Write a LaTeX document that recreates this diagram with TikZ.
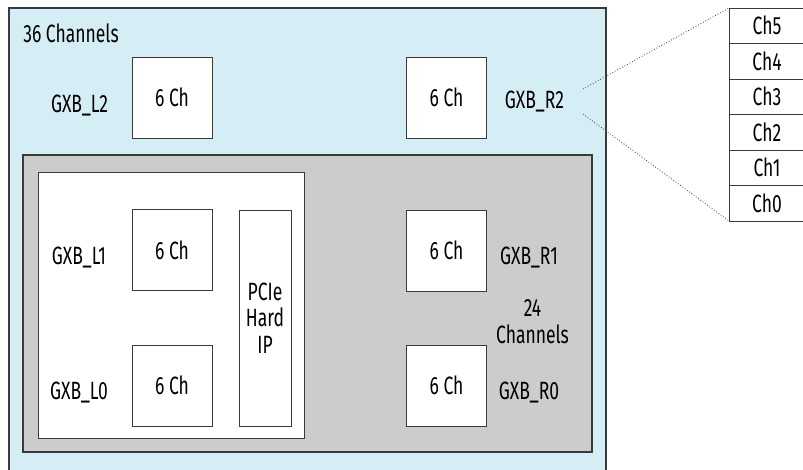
\documentclass[tikz,border=0pt]{standalone}
\usepackage{fontspec}
\setmainfont{Fira Sans}[FakeStretch=0.7]
\definecolor{lightblue}{HTML}{D5EDF4}
\definecolor{midgray}{HTML}{CCCCCC}
\definecolor{edge}{HTML}{3A3A3A}
\begin{document}
\begin{tikzpicture}[x=1pt,y=-1pt,
  every node/.style={inner sep=0pt,outer sep=0pt},
  txt/.style={font=\fontsize{25}{26.5}\selectfont,text=black},
  region/.style={draw=edge,line width=1.2pt,rectangle},
  chbox/.style={draw=edge,line width=0.9pt,fill=white,rectangle,minimum width=80pt,minimum height=81pt,txt},
  rowbox/.style={draw=edge,line width=0.9pt,fill=white,rectangle,minimum width=76pt,minimum height=35.5pt,txt},
  zoomline/.style={draw=edge,line width=0.8pt,dotted}]
\useasboundingbox (0,0) rectangle (803,469);
\clip (0,0) rectangle (803,469);
% regions
\node[region,fill=lightblue,minimum width=597pt,minimum height=466pt] (outer) at (307.5,241) {};
\node[region,fill=midgray,minimum width=569pt,minimum height=297pt] (gray) at (307.5,303.5) {};
\node[region,fill=white,line width=1pt,minimum width=266pt,minimum height=266pt] (inner) at (171,305) {};
% transceiver banks
\node[chbox] (l2) at (172,97.5) {6 Ch};
\node[chbox] (r2) at (446.5,97.5) {6 Ch};
\node[chbox] (l1) at (172,250) {6 Ch};
\node[chbox] (l0) at (172,385.5) {6 Ch};
\node[chbox] (r1) at (446.5,250.5) {6 Ch};
\node[chbox] (r0) at (446.5,385.5) {6 Ch};
\node[chbox,minimum width=52pt,minimum height=216pt,align=center] (pcie) at (265,318) {PCIe\\Hard\\IP};
% labels
\node[txt] (t36) at (71,33.5) {36 Channels};
\node[txt] (lL2) at (79.5,105.5) {GXB\_L2};
\node[txt] (lR2) at (534.5,101.5) {GXB\_R2};
\node[txt] (lL1) at (79,258) {GXB\_L1};
\node[txt] (lL0) at (79,393) {GXB\_L0};
\node[txt] (lR1) at (529,257.5) {GXB\_R1};
\node[txt] (lR0) at (529,392.5) {GXB\_R0};
\node[txt,align=center] (t24) at (532.5,321.5) {24\\Channels};
% channel stack
\node[rowbox,anchor=north west] (ch5) at (729,8) {Ch5};
\node[rowbox,anchor=north] (ch4) at (ch5.south) {Ch4};
\node[rowbox,anchor=north] (ch3) at (ch4.south) {Ch3};
\node[rowbox,anchor=north] (ch2) at (ch3.south) {Ch2};
\node[rowbox,anchor=north] (ch1) at (ch2.south) {Ch1};
\node[rowbox,anchor=north] (ch0) at (ch1.south) {Ch0};
% zoom lines
\coordinate (z1) at (583,89);
\coordinate (z2) at (583,114);
\draw[zoomline] (z1) -- (ch5.north west);
\draw[zoomline] (z2) -- (ch0.south west);
\end{tikzpicture}
\end{document}
